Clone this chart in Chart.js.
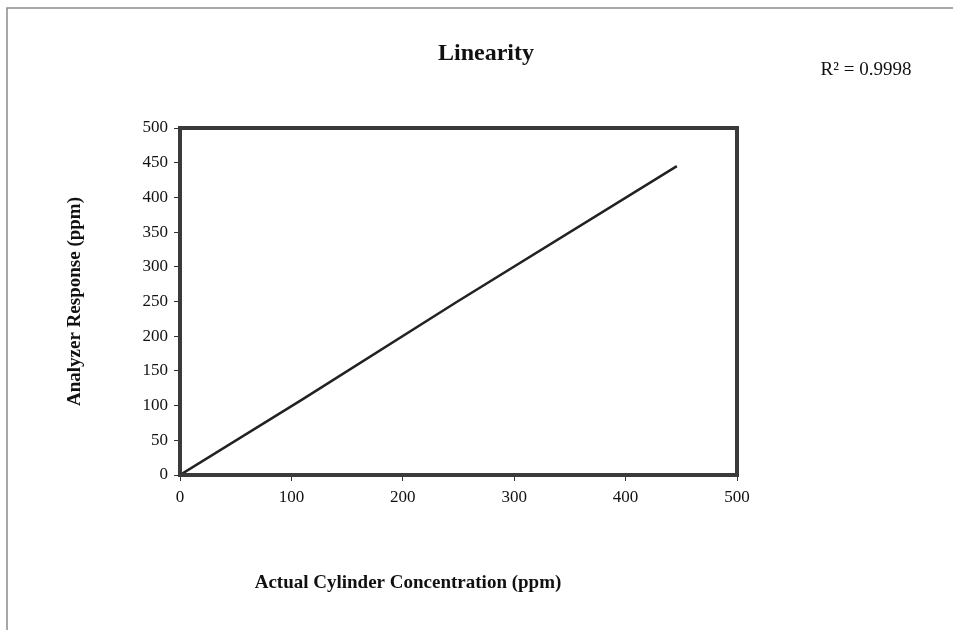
<!DOCTYPE html>
<html>
<head>
<meta charset="utf-8">
<script src="https://cdn.jsdelivr.net/npm/chart.js@4"></script>
<style>
  html, body { margin: 0; padding: 0; background: #fff; }
  canvas { display: block; }
</style>
</head>
<body>
<canvas id="c" width="953" height="630"></canvas>
<script>
// Data
const actualConc = [0, 111, 248, 446];      // x: Actual Cylinder Concentration (ppm)
const analyzerResp = [0, 110, 249, 445];    // y: Analyzer Response (ppm)
const xTicks = [0, 100, 200, 300, 400, 500];
const yTicks = [0, 50, 100, 150, 200, 250, 300, 350, 400, 450, 500];
const chartTitle = 'Linearity';
const r2Label = 'R\u00B2 = 0.9998';
const xTitle = 'Actual Cylinder Concentration (ppm)';
const yTitle = 'Analyzer Response (ppm)';

const points = actualConc.map((x, i) => ({ x: x, y: analyzerResp[i] }));
const serif = '"Liberation Serif", "Times New Roman", serif';

const decor = {
  id: 'decor',
  beforeDraw(chart) {
    const ctx = chart.ctx;
    ctx.save();
    ctx.fillStyle = '#fff';
    ctx.fillRect(0, 0, chart.width, chart.height);
    // outer frame (left and top edges)
    ctx.strokeStyle = '#8a8a8a';
    ctx.lineWidth = 1.5;
    ctx.beginPath();
    ctx.moveTo(7, 630);
    ctx.lineTo(7, 8);
    ctx.lineTo(953, 8);
    ctx.stroke();
    ctx.restore();
  },
  afterDraw(chart) {
    const ctx = chart.ctx;
    const a = chart.chartArea;
    ctx.save();
    ctx.strokeStyle = '#3a3a3a';
    ctx.lineWidth = 4;
    ctx.strokeRect(a.left, a.top, a.right - a.left, a.bottom - a.top);
    ctx.fillStyle = '#111';
    ctx.textAlign = 'center';
    ctx.textBaseline = 'middle';
    ctx.font = 'bold 24px ' + serif;
    ctx.fillText(chartTitle, 486, 54);
    ctx.font = '19px ' + serif;
    ctx.fillText(r2Label, 866, 70);
    ctx.font = 'bold 19px ' + serif;
    ctx.fillText(xTitle, 408, 583);
    ctx.restore();
  }
};

new Chart(document.getElementById('c'), {
  type: 'scatter',
  data: {
    datasets: [{
      data: points,
      showLine: true,
      borderColor: '#222',
      borderWidth: 2.5,
      pointRadius: 0,
      tension: 0
    }]
  },
  options: {
    responsive: false,
    animation: false,
    devicePixelRatio: 1,
    layout: { padding: { left: 56, right: 216, top: 128, bottom: 0 } },
    plugins: { legend: { display: false }, tooltip: { enabled: false }, title: { display: false } },
    scales: {
      x: {
        type: 'linear',
        min: 0, max: 500,
        afterFit(s) { s.height = 155; },
        afterBuildTicks(s) { s.ticks = xTicks.map(v => ({ value: v })); },
        ticks: { color: '#111', font: { family: serif, size: 17 }, padding: 6, maxRotation: 0 },
        grid: { display: true, drawOnChartArea: false, drawTicks: true, tickLength: 6, tickColor: '#333', tickWidth: 1 },
        border: { display: true, color: '#3a3a3a', width: 4 }
      },
      y: {
        type: 'linear',
        min: 0, max: 500,
        afterFit(s) { s.width = 124; },
        afterBuildTicks(s) { s.ticks = yTicks.map(v => ({ value: v })); },
        ticks: { color: '#111', font: { family: serif, size: 17 }, padding: 6 },
        grid: { display: true, drawOnChartArea: false, drawTicks: true, tickLength: 6, tickColor: '#333', tickWidth: 1 },
        border: { display: true, color: '#3a3a3a', width: 4 },
        title: { display: true, text: yTitle, color: '#111', font: { family: serif, size: 19, weight: 'bold' }, padding: { top: 8, bottom: 0 } }
      }
    }
  },
  plugins: [decor]
});
</script>
</body>
</html>
